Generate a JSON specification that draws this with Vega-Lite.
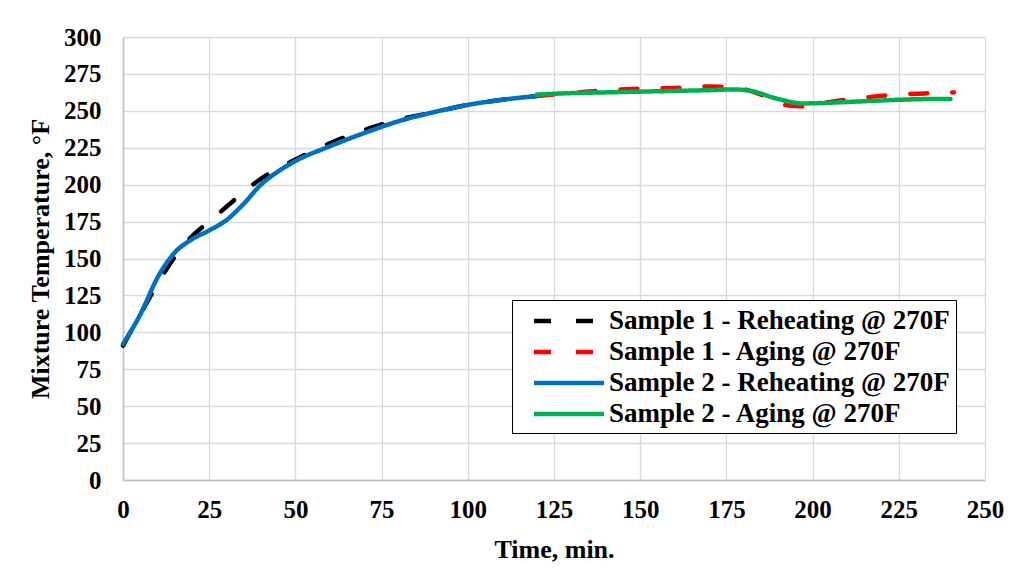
{
  "$schema": "https://vega.github.io/schema/vega-lite/v6.json",
  "width": 862,
  "height": 443,
  "autosize": {"type": "none"},
  "padding": {"left": 123, "top": 37, "right": 41, "bottom": 97},
  "background": "white",
  "config": {
    "font": "Liberation Serif",
    "view": {"stroke": null},
    "axis": {
      "labelFont": "Liberation Serif", "labelFontWeight": "bold", "labelFontSize": 25, "labelColor": "black",
      "titleFont": "Liberation Serif", "titleFontWeight": "bold", "titleFontSize": 26, "titleColor": "black",
      "gridColor": "#D9D9D9", "gridWidth": 1.3, "domainColor": "#BFBFBF", "domainWidth": 1.5, "ticks": false,
      "labelFlush": false
    },
    "legend": {
      "labelFont": "Liberation Serif", "labelFontWeight": "bold", "labelFontSize": 27, "labelColor": "black",
      "labelLimit": 600, "symbolStrokeWidth": 4.5, "symbolType": "M-2.8,0L2.8,0"
    }
  },
  "data": {"values": [
    {"s": "Sample 1 - Reheating @ 270F", "t": 0, "v": 91},
    {"s": "Sample 1 - Reheating @ 270F", "t": 5, "v": 112},
    {"s": "Sample 1 - Reheating @ 270F", "t": 10, "v": 133},
    {"s": "Sample 1 - Reheating @ 270F", "t": 15, "v": 151},
    {"s": "Sample 1 - Reheating @ 270F", "t": 20, "v": 165},
    {"s": "Sample 1 - Reheating @ 270F", "t": 25, "v": 175},
    {"s": "Sample 1 - Reheating @ 270F", "t": 30, "v": 185},
    {"s": "Sample 1 - Reheating @ 270F", "t": 35, "v": 195},
    {"s": "Sample 1 - Reheating @ 270F", "t": 40, "v": 204},
    {"s": "Sample 1 - Reheating @ 270F", "t": 45, "v": 211},
    {"s": "Sample 1 - Reheating @ 270F", "t": 50, "v": 217},
    {"s": "Sample 1 - Reheating @ 270F", "t": 60, "v": 228},
    {"s": "Sample 1 - Reheating @ 270F", "t": 70, "v": 237},
    {"s": "Sample 1 - Reheating @ 270F", "t": 80, "v": 244},
    {"s": "Sample 1 - Reheating @ 270F", "t": 90, "v": 249},
    {"s": "Sample 1 - Reheating @ 270F", "t": 100, "v": 254},
    {"s": "Sample 1 - Reheating @ 270F", "t": 110, "v": 257.5},
    {"s": "Sample 1 - Reheating @ 270F", "t": 120, "v": 260},
    {"s": "Sample 1 - Aging @ 270F", "t": 120, "v": 260},
    {"s": "Sample 1 - Aging @ 270F", "t": 130, "v": 262},
    {"s": "Sample 1 - Aging @ 270F", "t": 140, "v": 264},
    {"s": "Sample 1 - Aging @ 270F", "t": 150, "v": 265},
    {"s": "Sample 1 - Aging @ 270F", "t": 160, "v": 265.5},
    {"s": "Sample 1 - Aging @ 270F", "t": 170, "v": 266.5},
    {"s": "Sample 1 - Aging @ 270F", "t": 177, "v": 266},
    {"s": "Sample 1 - Aging @ 270F", "t": 185, "v": 261},
    {"s": "Sample 1 - Aging @ 270F", "t": 192, "v": 254},
    {"s": "Sample 1 - Aging @ 270F", "t": 198, "v": 253},
    {"s": "Sample 1 - Aging @ 270F", "t": 205, "v": 256},
    {"s": "Sample 1 - Aging @ 270F", "t": 215, "v": 259},
    {"s": "Sample 1 - Aging @ 270F", "t": 225, "v": 261},
    {"s": "Sample 1 - Aging @ 270F", "t": 235, "v": 262},
    {"s": "Sample 1 - Aging @ 270F", "t": 241, "v": 262.5},
    {"s": "Sample 2 - Reheating @ 270F", "t": 0, "v": 92},
    {"s": "Sample 2 - Reheating @ 270F", "t": 5, "v": 112},
    {"s": "Sample 2 - Reheating @ 270F", "t": 10, "v": 137},
    {"s": "Sample 2 - Reheating @ 270F", "t": 15, "v": 154},
    {"s": "Sample 2 - Reheating @ 270F", "t": 20, "v": 163},
    {"s": "Sample 2 - Reheating @ 270F", "t": 25, "v": 169},
    {"s": "Sample 2 - Reheating @ 270F", "t": 30, "v": 176},
    {"s": "Sample 2 - Reheating @ 270F", "t": 35, "v": 187},
    {"s": "Sample 2 - Reheating @ 270F", "t": 40, "v": 200},
    {"s": "Sample 2 - Reheating @ 270F", "t": 45, "v": 209},
    {"s": "Sample 2 - Reheating @ 270F", "t": 50, "v": 216},
    {"s": "Sample 2 - Reheating @ 270F", "t": 60, "v": 226},
    {"s": "Sample 2 - Reheating @ 270F", "t": 70, "v": 235},
    {"s": "Sample 2 - Reheating @ 270F", "t": 80, "v": 243},
    {"s": "Sample 2 - Reheating @ 270F", "t": 90, "v": 249},
    {"s": "Sample 2 - Reheating @ 270F", "t": 100, "v": 254},
    {"s": "Sample 2 - Reheating @ 270F", "t": 110, "v": 257.5},
    {"s": "Sample 2 - Reheating @ 270F", "t": 120, "v": 260},
    {"s": "Sample 2 - Aging @ 270F", "t": 120, "v": 261},
    {"s": "Sample 2 - Aging @ 270F", "t": 130, "v": 262},
    {"s": "Sample 2 - Aging @ 270F", "t": 140, "v": 262.5},
    {"s": "Sample 2 - Aging @ 270F", "t": 150, "v": 263},
    {"s": "Sample 2 - Aging @ 270F", "t": 160, "v": 263.5},
    {"s": "Sample 2 - Aging @ 270F", "t": 170, "v": 264},
    {"s": "Sample 2 - Aging @ 270F", "t": 177, "v": 264.5},
    {"s": "Sample 2 - Aging @ 270F", "t": 182, "v": 263.5},
    {"s": "Sample 2 - Aging @ 270F", "t": 190, "v": 258},
    {"s": "Sample 2 - Aging @ 270F", "t": 197, "v": 255},
    {"s": "Sample 2 - Aging @ 270F", "t": 205, "v": 255.5},
    {"s": "Sample 2 - Aging @ 270F", "t": 215, "v": 256.5},
    {"s": "Sample 2 - Aging @ 270F", "t": 225, "v": 257.5},
    {"s": "Sample 2 - Aging @ 270F", "t": 235, "v": 258},
    {"s": "Sample 2 - Aging @ 270F", "t": 240, "v": 258}
  ]},
  "mark": {"type": "line", "interpolate": "monotone", "strokeWidth": 4.5, "strokeCap": "round"},
  "encoding": {
    "x": {"field": "t", "type": "quantitative", "title": "Time, min.",
      "scale": {"domain": [0, 250], "nice": false},
      "axis": {"values": [0,25,50,75,100,125,150,175,200,225,250], "labelPadding": 17, "titlePadding": 14}},
    "y": {"field": "v", "type": "quantitative", "title": "Mixture Temperature, °F",
      "scale": {"domain": [0, 300], "nice": false},
      "axis": {"values": [0,25,50,75,100,125,150,175,200,225,250,275,300], "labelPadding": 22, "titlePadding": 10}},
    "color": {"field": "s", "type": "nominal", "sort": null,
      "scale": {"domain": ["Sample 1 - Reheating @ 270F", "Sample 1 - Aging @ 270F", "Sample 2 - Reheating @ 270F", "Sample 2 - Aging @ 270F"],
        "range": ["#000000", "#FF0000", "#0070C0", "#00B050"]},
      "legend": {"title": null, "orient": "none", "legendX": 389, "legendY": 263,
        "strokeColor": "black", "padding": 6, "symbolSize": 625, "rowPadding": 3,
        "symbolOffset": 36, "labelOffset": 25, "fillColor": "white"}},
    "strokeDash": {"field": "s", "type": "nominal", "sort": null,
      "scale": {"domain": ["Sample 1 - Reheating @ 270F", "Sample 1 - Aging @ 270F", "Sample 2 - Reheating @ 270F", "Sample 2 - Aging @ 270F"],
        "range": [[17, 25], [17, 25], [1, 0], [1, 0]]},
      "legend": {"title": null}},
    "order": {"field": "s", "sort": "ascending"}
  }
}
